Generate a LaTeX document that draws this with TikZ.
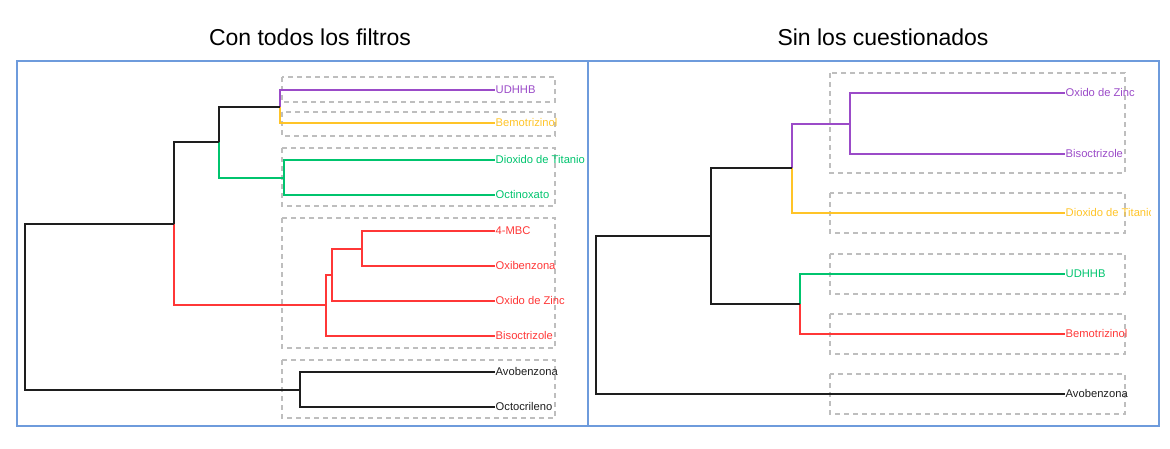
\documentclass[tikz,border=0pt]{standalone}
\usepackage{fontspec}
\setmainfont{Liberation Sans}
\usepackage{tikz}
\usetikzlibrary{positioning,calc}
\definecolor{dgPurple}{RGB}{155,75,200}
\definecolor{dgYellow}{RGB}{255,196,40}
\definecolor{dgGreen}{RGB}{0,196,110}
\definecolor{dgRed}{RGB}{255,55,55}
\definecolor{dgBlack}{RGB}{30,30,30}
\definecolor{dgFrame}{RGB}{110,155,220}
\definecolor{dgGray}{RGB}{190,190,190}
\tikzset{
    base/.style={font=\fontsize{11.2}{13}\selectfont, inner sep=0.5pt, anchor=west,
                 text height=1.5ex, text depth=0.25ex},
    leaf/.style={base},
    title/.style={font=\fontsize{23}{26}\selectfont, anchor=base, inner sep=0pt},
    branch/.style={line width=2pt},
    panel/.style={draw=dgFrame, line width=1.4pt},
    group/.style={draw=dgGray, line width=1.2pt, dash pattern=on 5pt off 4pt}
}

\begin{document}
\begin{tikzpicture}[x=1pt, y=-1pt]
  \useasboundingbox (0,0) rectangle (1170,448);

  % titles
  \node[title] (tA) at (310,45) {Con todos los filtros};
  \node[title] (tB) at (883,45) {Sin los cuestionados};

  % frames
  \draw[panel] (17,61) rectangle (588,426);
  \draw[panel] (588,61) rectangle (1159,426);

  % groups (left)
  \draw[group] (282,77) rectangle (555,102);
  \draw[group] (282,112) rectangle (555,136);
  \draw[group] (282,148) rectangle (555,206);
  \draw[group] (282,218) rectangle (555,348);
  \draw[group] (282,360) rectangle (555,418);

  % groups (right)
  \draw[group] (830,73) rectangle (1125,173);
  \draw[group] (830,193) rectangle (1125,233);
  \draw[group] (830,254) rectangle (1125,294);
  \draw[group] (830,314) rectangle (1125,354);
  \draw[group] (830,374) rectangle (1125,414);

  % left dendrogram
  \begin{scope}
    \clip (17,61) rectangle (586,426);
    \node[leaf, text=dgPurple] (lUd) at (495,90) {UDHHB};
    \node[leaf, text=dgYellow] (lBe) at (495,123) {Bemotrizinol};
    \node[leaf, text=dgGreen] (lDi) at (495,160) {Dioxido de Titanio};
    \node[leaf, text=dgGreen] (lOc) at (495,195) {Octinoxato};
    \node[leaf, text=dgRed] (lMb) at (495,231) {4-MBC};
    \node[leaf, text=dgRed] (lOx) at (495,266) {Oxibenzona};
    \node[leaf, text=dgRed] (lZn) at (495,301) {Oxido de Zinc};
    \node[leaf, text=dgRed] (lBi) at (495,336) {Bisoctrizole};
    \node[leaf, text=dgBlack] (lAv) at (495,372) {Avobenzona};
    \node[leaf, text=dgBlack] (lOr) at (495,407) {Octocrileno};
  \end{scope}

  \coordinate (a1) at (280,106.5);
  \coordinate (a2) at (284,177.5);
  \coordinate (a3) at (219,142);
  \coordinate (r1) at (362,248.5);
  \coordinate (r2) at (332,274.75);
  \coordinate (r3) at (326,305.4);
  \coordinate (a4) at (174,223.7);
  \coordinate (k1) at (300,389.5);
  \coordinate (rt) at (25,306.6);

  \draw[branch, dgPurple] (a1) |- (lUd.west);
  \draw[branch, dgYellow] (a1) |- (lBe.west);
  \draw[branch, dgGreen] (a2) |- (lDi.west);
  \draw[branch, dgGreen] (a2) |- (lOc.west);
  \draw[branch, dgBlack] (a3) |- (a1);
  \draw[branch, dgGreen] (a3) |- (a2);
  \draw[branch, dgRed] (r1) |- (lMb.west);
  \draw[branch, dgRed] (r1) |- (lOx.west);
  \draw[branch, dgRed] (r2) |- (r1);
  \draw[branch, dgRed] (r2) |- (lZn.west);
  \draw[branch, dgRed] (r3) |- (r2);
  \draw[branch, dgRed] (r3) |- (lBi.west);
  \draw[branch, dgBlack] (a4) |- (a3);
  \draw[branch, dgRed] (a4) |- (r3);
  \draw[branch, dgBlack] (k1) |- (lAv.west);
  \draw[branch, dgBlack] (k1) |- (lOr.west);
  \draw[branch, dgBlack] (rt) |- (a4);
  \draw[branch, dgBlack] (rt) |- (k1);

  % right dendrogram
  \begin{scope}
    \clip (588,61) rectangle (1150,426);
    \node[leaf, text=dgPurple] (rZn) at (1065,93) {Oxido de Zinc};
    \node[leaf, text=dgPurple] (rBi) at (1065,154) {Bisoctrizole};
    \node[leaf, text=dgYellow] (rDi) at (1065,213) {Dioxido de Titanio};
    \node[leaf, text=dgGreen] (rUd) at (1065,274) {UDHHB};
    \node[leaf, text=dgRed] (rBe) at (1065,334) {Bemotrizinol};
    \node[leaf, text=dgBlack] (rAv) at (1065,394) {Avobenzona};
  \end{scope}

  \coordinate (b1) at (850,123.5);
  \coordinate (b2) at (792,168);
  \coordinate (b3) at (800,304);
  \coordinate (b4) at (711,236);
  \coordinate (rt2) at (596,315);

  \draw[branch, dgPurple] (b1) |- (rZn.west);
  \draw[branch, dgPurple] (b1) |- (rBi.west);
  \draw[branch, dgPurple] (b2) |- (b1);
  \draw[branch, dgYellow] (b2) |- (rDi.west);
  \draw[branch, dgGreen] (b3) |- (rUd.west);
  \draw[branch, dgRed] (b3) |- (rBe.west);
  \draw[branch, dgBlack] (b4) |- (b2);
  \draw[branch, dgBlack] (b4) |- (b3);
  \draw[branch, dgBlack] (rt2) |- (b4);
  \draw[branch, dgBlack] (rt2) |- (rAv.west);
\end{tikzpicture}
\end{document}
